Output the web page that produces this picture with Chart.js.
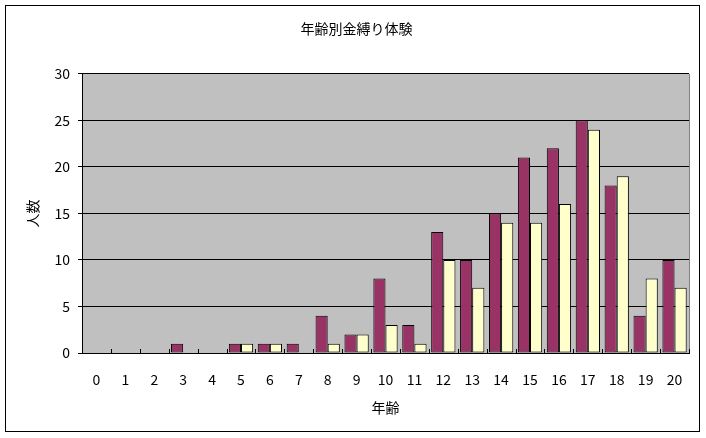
<!DOCTYPE html>
<html><head><meta charset="utf-8">
<script src="https://cdn.jsdelivr.net/npm/chart.js@4"></script>
<style>html,body{margin:0;padding:0;background:#fff}#wrap{width:706px;height:438px;position:relative}</style>
</head><body><div id="wrap"><canvas id="c" width="706" height="438"></canvas></div>
<script>
const ages = ['0','1','2','3','4','5','6','7','8','9','10','11','12','13','14','15','16','17','18','19','20'];
const seriesA = [0,0,0,1,0,1,1,1,4,2,8,3,13,10,15,21,22,25,18,4,10];
const seriesB = [0,0,0,0,0,1,1,0,1,2,3,1,10,7,14,14,16,24,19,8,7];
const yTicks = [0,5,10,15,20,25,30];
const FONT = '"Noto Sans CJK JP", "DejaVu Sans", sans-serif';

const deco = {
  id:'deco',
  beforeDraw(chart){
    const {ctx, chartArea:a} = chart;
    ctx.save();
    ctx.fillStyle='#fff'; ctx.fillRect(0,0,chart.width,chart.height);
    ctx.strokeStyle='#000'; ctx.lineWidth=1;
    ctx.strokeRect(5.5,5.5,694,426);
    ctx.fillStyle='#C0C0C0';
    ctx.fillRect(a.left,a.top,a.right-a.left,a.bottom-a.top);
    ctx.restore();
  },
  afterDatasetsDraw(chart){
    const {ctx, chartArea:a, scales:{x}} = chart;
    ctx.save();
    ctx.strokeStyle='#808080'; ctx.lineWidth=1;
    ctx.beginPath(); ctx.moveTo(Math.round(a.right)+0.5,a.top); ctx.lineTo(Math.round(a.right)+0.5,a.bottom); ctx.stroke();
    ctx.strokeStyle='#000';
    const w = x.getPixelForValue(1)-x.getPixelForValue(0);
    ctx.beginPath();
    for(let i=0;i<=ages.length;i++){
      const px = Math.round(x.getPixelForValue(i)-w/2)+0.5;
      ctx.moveTo(px,a.bottom); ctx.lineTo(px,a.bottom-4);
    }
    ctx.stroke();
    ctx.restore();
  }
};

new Chart(document.getElementById('c'),{
  type:'bar',
  data:{labels:ages,datasets:[
    {label:'A',data:seriesA,backgroundColor:'#993366',borderColor:'#000',borderWidth:1,borderSkipped:false,categoryPercentage:0.84,barPercentage:1},
    {label:'B',data:seriesB,backgroundColor:'#FFFFCC',borderColor:'#000',borderWidth:1,borderSkipped:false,categoryPercentage:0.84,barPercentage:1}
  ]},
  options:{
    responsive:false,animation:false,
    layout:{padding:{left:24,right:17,top:0,bottom:20}},
    plugins:{
      legend:{display:false},tooltip:{enabled:false},
      title:{display:true,text:'年齢別金縛り体験',color:'#000',font:{family:FONT,size:14,weight:'normal'},padding:{top:20,bottom:37}}
    },
    scales:{
      x:{
        afterFit(s){s.height=65;},
        grid:{display:false},
        border:{display:true,color:'#000'},
        ticks:{color:'#000',font:{family:FONT,size:14},padding:10,maxRotation:0,autoSkip:false},
        title:{display:true,text:'年齢',color:'#000',font:{family:FONT,size:14},padding:{top:10,bottom:2}}
      },
      y:{
        min:0,max:30,
        afterBuildTicks(s){s.ticks=yTicks.map(v=>({value:v}));},
        afterFit(s){s.width=58;},
        grid:{color:'#000',lineWidth:1,tickLength:4,drawTicks:true},
        border:{display:true,color:'#000'},
        ticks:{color:'#000',font:{family:FONT,size:14},padding:8,stepSize:5},
        title:{display:true,text:'人数',color:'#000',font:{family:FONT,size:14},padding:0}
      }
    }
  },
  plugins:[deco]
});
</script></body></html>
